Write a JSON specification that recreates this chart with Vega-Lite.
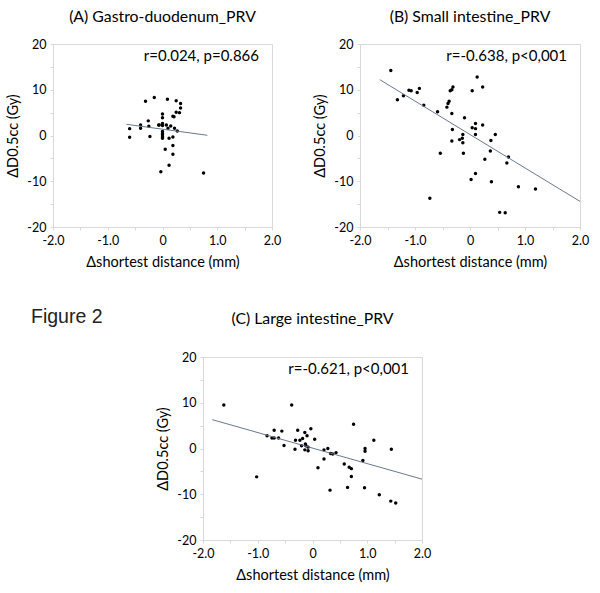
{
  "$schema": "https://vega.github.io/schema/vega-lite/v6.json",
  "description": "Figure 2: change in D0.5cc against change in shortest distance for three PRVs.",
  "padding": {"left": 5, "top": 8, "right": 5, "bottom": 5},
  "bounds": "flush",
  "spacing": 313,
  "datasets": {
    "A": [
      {"x": -0.60, "y": 1.5}, {"x": -0.60, "y": -0.4}, {"x": -0.31, "y": 7.5}, {"x": -0.15, "y": 8.3},
      {"x": -0.40, "y": 2.3}, {"x": -0.40, "y": 1.6}, {"x": -0.26, "y": 3.2}, {"x": -0.25, "y": 2.0},
      {"x": -0.23, "y": -0.2}, {"x": -0.07, "y": 2.3}, {"x": -0.06, "y": 2.3}, {"x": 0.0, "y": 4.7},
      {"x": 0.0, "y": 3.9}, {"x": 0.0, "y": 2.6}, {"x": 0.0, "y": 2.2}, {"x": 0.0, "y": 0.9},
      {"x": 0.0, "y": 0.5}, {"x": 0.0, "y": 0.2}, {"x": 0.0, "y": -0.1}, {"x": 0.0, "y": -0.4},
      {"x": 0.0, "y": -0.6}, {"x": -0.03, "y": -7.9}, {"x": 0.05, "y": -3.0}, {"x": 0.09, "y": 7.9},
      {"x": 0.07, "y": 2.3}, {"x": 0.10, "y": 1.6}, {"x": 0.12, "y": -0.6}, {"x": 0.12, "y": -6.5},
      {"x": 0.15, "y": 2.1}, {"x": 0.19, "y": 4.2}, {"x": 0.21, "y": 4.1}, {"x": 0.19, "y": -0.35},
      {"x": 0.19, "y": -2.2}, {"x": 0.19, "y": -4.1}, {"x": 0.22, "y": 1.6}, {"x": 0.25, "y": 7.6},
      {"x": 0.25, "y": 5.1}, {"x": 0.27, "y": 1.0}, {"x": 0.31, "y": 5.0}, {"x": 0.33, "y": 7.0},
      {"x": 0.33, "y": 6.0}, {"x": 0.75, "y": -8.2}
    ],
    "B": [
      {"x": -1.44, "y": 14.2}, {"x": -1.32, "y": 7.8}, {"x": -1.21, "y": 8.7}, {"x": -1.11, "y": 9.9},
      {"x": -1.07, "y": 9.8}, {"x": -0.96, "y": 9.4}, {"x": -0.92, "y": 10.3}, {"x": -0.84, "y": 6.6},
      {"x": -0.59, "y": 5.2}, {"x": -0.73, "y": -13.7}, {"x": -0.54, "y": -3.9}, {"x": -0.42, "y": 6.2},
      {"x": -0.40, "y": 7.0}, {"x": -0.38, "y": 7.5}, {"x": -0.36, "y": 9.8}, {"x": -0.33, "y": 10.0},
      {"x": -0.31, "y": 10.6}, {"x": -0.33, "y": 4.8}, {"x": -0.32, "y": 1.3}, {"x": -0.33, "y": -1.2},
      {"x": -0.10, "y": 3.9}, {"x": -0.13, "y": 0.2}, {"x": -0.14, "y": -0.6}, {"x": -0.19, "y": -0.9},
      {"x": -0.13, "y": -1.6}, {"x": -0.12, "y": -3.9}, {"x": 0.04, "y": 9.8}, {"x": 0.04, "y": 1.7},
      {"x": 0.13, "y": 12.8}, {"x": 0.23, "y": 10.6}, {"x": 0.10, "y": 2.6}, {"x": 0.10, "y": 1.5},
      {"x": 0.23, "y": 2.3}, {"x": 0.10, "y": 0.2}, {"x": 0.38, "y": -1.1}, {"x": 0.46, "y": 0.2},
      {"x": 0.37, "y": -3.4}, {"x": 0.27, "y": -5.2}, {"x": 0.70, "y": -4.7}, {"x": 0.67, "y": -6.0},
      {"x": 0.02, "y": -9.6}, {"x": 0.10, "y": -8.3}, {"x": 0.39, "y": -10.1}, {"x": 0.88, "y": -11.2},
      {"x": 1.19, "y": -11.7}, {"x": 0.54, "y": -16.8}, {"x": 0.64, "y": -16.9}
    ],
    "C": [
      {"x": -1.62, "y": 9.5}, {"x": -1.02, "y": -6.2}, {"x": -0.38, "y": 9.5}, {"x": -0.83, "y": 2.8},
      {"x": -0.70, "y": 4.0}, {"x": -0.74, "y": 2.3}, {"x": -0.70, "y": 2.3}, {"x": -0.62, "y": 2.3},
      {"x": -0.56, "y": 3.8}, {"x": -0.52, "y": 0.65}, {"x": -0.32, "y": -0.15}, {"x": -0.31, "y": 1.8},
      {"x": -0.27, "y": 4.0}, {"x": -0.23, "y": 1.8}, {"x": -0.18, "y": 2.2}, {"x": -0.14, "y": 3.5},
      {"x": -0.10, "y": 2.8}, {"x": -0.13, "y": 1.0}, {"x": -0.20, "y": 0.6}, {"x": -0.12, "y": 0.6},
      {"x": -0.08, "y": 0.3}, {"x": -0.14, "y": -0.3}, {"x": -0.08, "y": -0.5}, {"x": -0.03, "y": 4.3},
      {"x": 0.04, "y": 2.0}, {"x": 0.10, "y": -4.2}, {"x": 0.21, "y": -0.3}, {"x": 0.21, "y": -2.3},
      {"x": 0.28, "y": 0.0}, {"x": 0.33, "y": -1.1}, {"x": 0.37, "y": -1.2}, {"x": 0.43, "y": -0.9},
      {"x": 0.32, "y": -9.1}, {"x": 0.58, "y": -3.4}, {"x": 0.64, "y": -8.5}, {"x": 0.67, "y": -4.1},
      {"x": 0.71, "y": -4.4}, {"x": 0.71, "y": -6.1}, {"x": 0.75, "y": 5.3}, {"x": 0.92, "y": -2.6},
      {"x": 0.95, "y": -8.6}, {"x": 0.96, "y": 0.0}, {"x": 0.96, "y": -0.6}, {"x": 1.12, "y": 1.8},
      {"x": 1.22, "y": -10.1}, {"x": 1.44, "y": -0.15}, {"x": 1.43, "y": -11.5}, {"x": 1.52, "y": -11.9}
    ],
    "lineA": [{"x": -0.66, "y": 2.45}, {"x": 0.82, "y": 0.05}],
    "lineB": [{"x": -1.64, "y": 12.2}, {"x": 2.0, "y": -14.4}],
    "lineC": [{"x": -1.83, "y": 6.3}, {"x": 2.0, "y": -6.7}],
    "noteA": [{"x": 2, "y": 20, "label": "r=0.024, p=0.866"}],
    "noteB": [{"x": 2, "y": 20, "label": "r=-0.638, p<0,001"}],
    "noteC": [{"x": 2, "y": 20, "label": "r=-0.621, p<0,001"}]
  },
  "vconcat": [
    {
      "bounds": "flush",
      "spacing": 88,
      "hconcat": [
        {
          "width": 219,
          "height": 183,
          "title": {"text": "(A) Gastro-duodenum_PRV", "offset": 12},
          "encoding": {
            "x": {"field": "x", "type": "quantitative", "scale": {"domain": [-2, 2]},
              "axis": {"values": [-2, -1.5, -1, -0.5, 0, 0.5, 1, 1.5, 2],
                "labelExpr": "datum.value == 0 ? '0' : (datum.value % 1 == 0 ? datum.value + '.0' : '')"},
              "title": "Δshortest distance (mm)"},
            "y": {"field": "y", "type": "quantitative", "scale": {"domain": [-20, 20]},
              "axis": {"values": [-20, -15, -10, -5, 0, 5, 10, 15, 20],
                "labelExpr": "datum.value % 10 == 0 ? '' + datum.value : ''"},
              "title": "ΔD0.5cc (Gy)"}
          },
          "layer": [
            {"data": {"name": "A"}, "mark": {"type": "circle", "size": 12, "color": "#000000", "opacity": 1}},
            {"data": {"name": "lineA"}, "mark": {"type": "line", "color": "#6a7893", "strokeWidth": 1}},
            {"data": {"name": "noteA"},
              "mark": {"type": "text", "align": "right", "baseline": "top", "dx": -13, "dy": 5, "font": "Lato", "fontSize": 15, "color": "#000000"},
              "encoding": {"text": {"field": "label"}}}
          ]
        },
        {
          "width": 220,
          "height": 183,
          "title": {"text": "(B) Small intestine_PRV", "offset": 12},
          "encoding": {
            "x": {"field": "x", "type": "quantitative", "scale": {"domain": [-2, 2]},
              "axis": {"values": [-2, -1.5, -1, -0.5, 0, 0.5, 1, 1.5, 2],
                "labelExpr": "datum.value == 0 ? '0' : (datum.value % 1 == 0 ? datum.value + '.0' : '')"},
              "title": "Δshortest distance (mm)"},
            "y": {"field": "y", "type": "quantitative", "scale": {"domain": [-20, 20]},
              "axis": {"values": [-20, -15, -10, -5, 0, 5, 10, 15, 20],
                "labelExpr": "datum.value % 10 == 0 ? '' + datum.value : ''"},
              "title": "ΔD0.5cc (Gy)"}
          },
          "layer": [
            {"data": {"name": "B"}, "mark": {"type": "circle", "size": 12, "color": "#000000", "opacity": 1}},
            {"data": {"name": "lineB"}, "mark": {"type": "line", "color": "#6a7893", "strokeWidth": 1}},
            {"data": {"name": "noteB"},
              "mark": {"type": "text", "align": "right", "baseline": "top", "dx": -13, "dy": 5, "font": "Lato", "fontSize": 15, "color": "#000000"},
              "encoding": {"text": {"field": "label"}}}
          ]
        }
      ]
    },
    {
      "bounds": "flush",
      "spacing": 50,
      "hconcat": [
        {
          "width": 100,
          "height": 183,
          "view": {"stroke": null},
          "title": {"text": "Figure 2", "anchor": "start", "font": "Liberation Sans", "fontSize": 19.5, "color": "#222222", "dx": -22, "offset": 30},
          "data": {"values": [{"label": "Figure 2"}]},
          "mark": {"type": "text", "opacity": 0},
          "encoding": {"text": {"field": "label"}}
        },
        {
          "width": 219,
          "height": 183,
          "title": {"text": "(C) Large intestine_PRV", "offset": 23},
          "encoding": {
            "x": {"field": "x", "type": "quantitative", "scale": {"domain": [-2, 2]},
              "axis": {"values": [-2, -1.5, -1, -0.5, 0, 0.5, 1, 1.5, 2],
                "labelExpr": "datum.value == 0 ? '0' : (datum.value % 1 == 0 ? datum.value + '.0' : '')"},
              "title": "Δshortest distance (mm)"},
            "y": {"field": "y", "type": "quantitative", "scale": {"domain": [-20, 20]},
              "axis": {"values": [-20, -15, -10, -5, 0, 5, 10, 15, 20],
                "labelExpr": "datum.value % 10 == 0 ? '' + datum.value : ''"},
              "title": "ΔD0.5cc (Gy)"}
          },
          "layer": [
            {"data": {"name": "C"}, "mark": {"type": "circle", "size": 12, "color": "#000000", "opacity": 1}},
            {"data": {"name": "lineC"}, "mark": {"type": "line", "color": "#6a7893", "strokeWidth": 1}},
            {"data": {"name": "noteC"},
              "mark": {"type": "text", "align": "right", "baseline": "top", "dx": -13, "dy": 5, "font": "Lato", "fontSize": 15, "color": "#000000"},
              "encoding": {"text": {"field": "label"}}}
          ]
        }
      ]
    }
  ],
  "config": {
    "background": "#ffffff",
    "view": {"stroke": "#d9d9d9"},
    "title": {"font": "Lato", "fontSize": 15.8, "fontWeight": "normal", "color": "#000000", "baseline": "alphabetic", "anchor": "middle"},
    "axis": {
      "grid": false,
      "domainColor": "#d9d9d9",
      "tickColor": "#d9d9d9",
      "tickSize": 3,
      "labelFont": "Lato",
      "labelFontSize": 12.5,
      "labelColor": "#000000",
      "labelFlush": false,
      "labelOverlap": false,
      "titleFont": "Lato",
      "titleFontSize": 14.5,
      "titleFontWeight": "normal",
      "titleColor": "#000000"
    },
    "axisX": {"labelPadding": 4, "titlePadding": 9},
    "axisY": {"labelPadding": 4, "titlePadding": 6}
  }
}
